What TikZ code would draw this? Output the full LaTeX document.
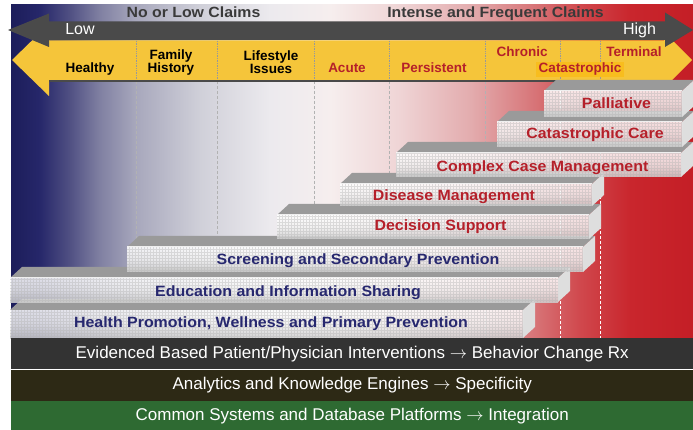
\documentclass[tikz,border=0pt]{standalone}
\usepackage{fontspec}
\setmainfont{Liberation Sans}
\newfontfamily\widesans[FakeStretch=1.07]{Liberation Sans}
\usepackage{tikz}
\usetikzlibrary{positioning}
\definecolor{arrowgrey}{HTML}{4A4A4A}
\definecolor{claimgrey}{HTML}{3A3A3A}
\definecolor{gold}{HTML}{F5C53A}
\definecolor{goldhi}{HTML}{F8BD1E}
\definecolor{redtxt}{HTML}{B5202A}
\definecolor{bluetxt}{HTML}{27286F}
\definecolor{slabtop}{HTML}{9A9A9A}
\definecolor{slabside}{HTML}{DEDEDE}
\definecolor{bandA}{HTML}{333333}
\definecolor{bandB}{HTML}{2D2915}
\definecolor{bandC}{HTML}{2E6A32}
% background spectrum, blue -> white -> red
\definecolor{sp0}{HTML}{1C1D5A}
\definecolor{sp1}{HTML}{26276A}
\definecolor{sp2}{HTML}{505083}
\definecolor{sp3}{HTML}{8080A2}
\definecolor{sp4}{HTML}{A7A7BC}
\definecolor{sp5}{HTML}{D0D0D9}
\definecolor{sp6}{HTML}{ECEAEE}
\definecolor{sp7}{HTML}{F6EEEE}
\definecolor{sp8}{HTML}{EFD4D5}
\definecolor{sp9}{HTML}{E3ACAE}
\definecolor{sp10}{HTML}{D8797C}
\definecolor{sp11}{HTML}{D0484D}
\definecolor{sp12}{HTML}{C9262D}
\definecolor{sp13}{HTML}{C41E26}
\pgfdeclarehorizontalshading{spectrum}{100bp}{color(0bp)=(sp0); color(25bp)=(sp0);
  color(27.1bp)=(sp1); color(29.3bp)=(sp2); color(31.5bp)=(sp3); color(34.1bp)=(sp4);
  color(38.9bp)=(sp5); color(44bp)=(sp6); color(48.4bp)=(sp7); color(53.5bp)=(sp8);
  color(58.7bp)=(sp9); color(63bp)=(sp10); color(66.7bp)=(sp11); color(70.4bp)=(sp12);
  color(75bp)=(sp13); color(100bp)=(sp13)}
\newcommand\slabdepth{12}
\newcommand\slabrise{11}
% #1 left, #2 right, #3 top, #4 bottom of the front face
\newcommand\slab[4]{%
  \fill[slabtopface] (#1,#3) -- (#2,#3) -- (#2+\slabdepth,#3-\slabrise) -- (#1+\slabdepth,#3-\slabrise) -- cycle;
  \fill[slabsideface] (#2,#3) -- (#2+\slabdepth,#3-\slabrise) -- (#2+\slabdepth,#4-\slabrise) -- (#2,#4) -- cycle;
  \shade[slabfront] (#1,#3) rectangle (#2,#4);
  \begin{scope}
    \clip (#1,#3) rectangle (#2,#4);
    \draw[slabgrid] (#1,#3) grid (#2,#4);
  \end{scope}
}
\tikzset{
  darkarrow/.style={fill=arrowgrey},
  yellowarrow/.style={fill=gold},
  divider/.style={draw=gray!80, line width=0.7pt, densely dotted},
  guide/.style={draw=gray!60, line width=0.4pt, densely dashed},
  guidew/.style={draw=white, line width=0.6pt, densely dashed},
  slabtopface/.style={fill=slabtop},
  slabsideface/.style={fill=slabside},
  slabfront/.style={top color=white, bottom color=gray!38, middle color=white!90!gray, fill opacity=0.85},
  slabgrid/.style={draw=gray!60, line width=0.2pt, opacity=0.4, step=3pt},
  claim/.style={text=claimgrey, font=\widesans\bfseries\fontsize{14.8}{17}\selectfont, anchor=base, inner sep=0pt},
  endlab/.style={text=white, font=\fontsize{16}{18}\selectfont, anchor=base, inner sep=0pt},
  stage/.style={text=black, font=\bfseries\fontsize{13.5}{11}\selectfont, anchor=base, inner sep=0pt, align=center},
  stagered/.style={stage, text=redtxt},
  slablab/.style={font=\widesans\bfseries\fontsize{14.9}{16}\selectfont, anchor=base, inner sep=0pt},
  slabred/.style={slablab, text=redtxt},
  slabblue/.style={slablab, text=bluetxt},
  band/.style={minimum width=682pt, minimum height=31pt, inner sep=0pt, text=white,
    font=\fontsize{17}{19}\selectfont},
}
\begin{document}
\begin{tikzpicture}[x=1pt, y=-1pt]
  \useasboundingbox (0,0) rectangle (693,430);
  \shade[shading=spectrum] (11,5) rectangle (693,338);

  % stage guides behind the slabs
  \foreach \gx in {136,217,314,389,485}
    \draw[guide] (\gx,81) -- (\gx,338);
  \foreach \gx in {560,600}
    \draw[guidew] (\gx,81) -- (\gx,338);

  % yellow stage arrow
  \fill[yellowarrow] (12,60) -- (49,24) -- (49,40.5) -- (664,40.5) -- (664,32) -- (692,60)
    -- (664,88) -- (664,80.5) -- (49,80.5) -- (49,96) -- cycle;
  \draw[arrowgrey, line width=1.5pt] (49,81) -- (664,81);
  \foreach \gx in {136,217,314,389,485,560,600}
    \draw[divider] (\gx,41) -- (\gx,80);

  % claims arrow
  \fill[darkarrow] (8,30) -- (49,13.5) -- (49,21.5) -- (665,21.5) -- (665,12.5) -- (693,30)
    -- (665,47) -- (665,40) -- (49,40) -- (49,47) -- cycle;
  \node[claim] (lowclaims) at (193.5,18) {No or Low Claims};
  \node[claim] (highclaims) at (495.5,18) {Intense and Frequent Claims};
  \node[endlab] (low) at (80,35) {Low};
  \node[endlab] (high) at (639.5,35) {High};

  % stages
  \node[stage] (healthy) at (90,73) {Healthy};
  \node[stage, anchor=center] (family) at (171,62.5) {Family\\History};
  \node[stage, anchor=center] (lifestyle) at (271,62.5) {Lifestyle\\Issues};
  \node[stagered] (acute) at (347,73) {Acute};
  \node[stagered] (persist) at (434,73) {Persistent};
  \node[stagered] (chronic) at (522,57) {Chronic};
  \node[stagered] (terminal) at (634,57) {Terminal};
  \node[stagered, fill=goldhi, inner xsep=3pt, inner ysep=1.5pt] (catas) at (580,73) {Catastrophic};

  % slabs, front to back
  \slab{10}{523}{310}{338}
  \slab{10}{558}{278}{302}
  \slab{127}{583}{247}{272}
  \slab{277}{589}{215}{239}
  \slab{340}{592}{184}{206}
  \slab{396}{681}{153}{177}
  \slab{497}{682}{122}{147}
  \slab{544}{682}{91}{117}

  \node[slabblue] (health) at (271,327) {Health Promotion, Wellness and Primary Prevention};
  \node[slabblue] (educ) at (288,297) {Education and Information Sharing};
  \node[slabblue] (screen) at (358,265) {Screening and Secondary Prevention};
  \node[slabred] (decis) at (440.5,231) {Decision Support};
  \node[slabred] (disease) at (454,201) {Disease Management};
  \node[slabred] (complex) at (542.5,171.5) {Complex Case Management};
  \node[slabred] (catcare) at (595,139) {Catastrophic Care};
  \node[slabred] (palli) at (616.5,109) {Palliative};

  % platform bands
  \node[band, fill=bandA, anchor=north west] (evid) at (11,338)
    {Evidenced Based Patient/Physician Interventions $\rightarrow$ Behavior Change Rx};
  \node[band, fill=bandB, below=0pt of evid] (analyt) {Analytics and Knowledge Engines $\rightarrow$ Specificity};
  \node[band, fill=bandC, below=0pt of analyt] (common) {Common Systems and Database Platforms $\rightarrow$ Integration};
\end{tikzpicture}
\end{document}
